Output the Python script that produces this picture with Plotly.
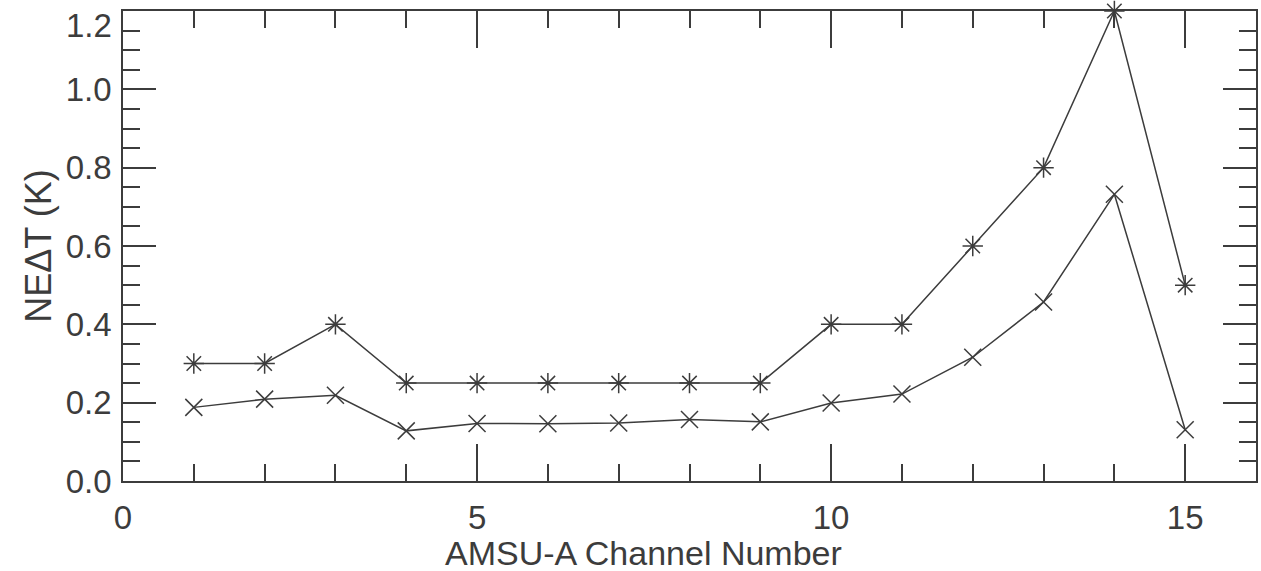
import plotly.graph_objects as go

# AMSU-A channel numbers
channels = list(range(1, 16))

# Specification NEdT (K) per channel
spec_nedt = [0.30, 0.30, 0.40, 0.25, 0.25, 0.25, 0.25, 0.25, 0.25,
             0.40, 0.40, 0.60, 0.80, 1.20, 0.50]

# Measured NEdT (K) per channel
measured_nedt = [0.188, 0.209, 0.219, 0.128, 0.147, 0.146, 0.148, 0.157, 0.151,
                 0.199, 0.222, 0.316, 0.457, 0.732, 0.131]

# Y tick values; the top one sits on the frame and gets its label nudged inward
y_ticks = [0.0, 0.2, 0.4, 0.6, 0.8, 1.0]
y_top = 1.2

ink = "#3c3c3c"
font_family = "Liberation Sans, Arial, Helvetica, sans-serif"

fig = go.Figure()

fig.add_trace(go.Scatter(
    x=channels, y=spec_nedt, mode="lines+markers",
    line=dict(color=ink, width=1.5),
    marker=dict(symbol="asterisk-open", size=17, color=ink,
                line=dict(color=ink, width=1.5)),
    cliponaxis=False, showlegend=False,
))

fig.add_trace(go.Scatter(
    x=channels, y=measured_nedt, mode="lines+markers",
    line=dict(color=ink, width=1.5),
    marker=dict(symbol="x-thin-open", size=17, color=ink,
                line=dict(color=ink, width=1.5)),
    cliponaxis=False, showlegend=False,
))

tick_font = dict(family=font_family, size=33, color=ink)

axis_common = dict(
    showgrid=False, zeroline=False,
    showline=True, linecolor=ink, linewidth=1.5, mirror="ticks",
    ticks="inside", tickcolor=ink, tickwidth=1.5,
    tickfont=tick_font,
)

fig.update_xaxes(
    range=[0, 16], tickmode="linear", tick0=0, dtick=5, ticklen=37,
    minor=dict(dtick=1, ticklen=17, ticks="inside", tickcolor=ink, tickwidth=1.5),
    ticklabelstandoff=7,
    **axis_common,
)

fig.update_yaxes(
    range=[0, y_top], tickmode="array", tickvals=y_ticks + [y_top],
    ticktext=[f"{v:.1f}" for v in y_ticks] + [""], ticklen=33,
    minor=dict(dtick=0.05, ticklen=17, ticks="inside", tickcolor=ink, tickwidth=1.5),
    ticklabelstandoff=3,
    title=dict(text="NEΔT (K)", font=dict(family=font_family, size=36, color=ink),
               standoff=3),
    **axis_common,
)

# label for the top tick, kept inside the page
fig.add_annotation(
    text=f"{y_top:.1f}", xref="paper", yref="y", x=0, y=y_top,
    xanchor="right", yanchor="middle", xshift=-9, yshift=-14,
    showarrow=False, font=tick_font,
)

fig.add_annotation(
    text="AMSU-A Channel Number", xref="paper", yref="paper",
    x=0.459, y=-0.153, xanchor="center", yanchor="middle", showarrow=False,
    font=dict(family=font_family, size=34, color=ink),
)

fig.update_layout(
    width=1261, height=571,
    margin=dict(l=123, r=3, t=11, b=90),
    paper_bgcolor="white", plot_bgcolor="white",
)

fig.write_html("out.html")
